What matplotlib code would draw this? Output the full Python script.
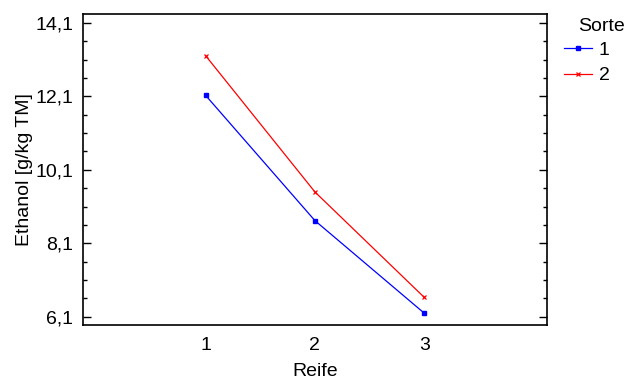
import matplotlib
matplotlib.use("Agg")
import matplotlib.pyplot as plt
import numpy as np
from matplotlib.ticker import FixedLocator, FuncFormatter

plt.rcParams['font.family'] = ['Liberation Sans', 'DejaVu Sans']

reife = [1, 2, 3]
sorte1 = [12.13, 8.72, 6.20]
sorte2 = [13.21, 9.50, 6.63]
yticks = [6.1, 8.1, 10.1, 12.1, 14.1]

FS = 14

fig = plt.figure(figsize=(6.27, 3.85), dpi=100)
ax = fig.add_axes([0.1324, 0.156, 0.872 - 0.1324, 0.9636 - 0.156])

ax.plot(reife, sorte1, color='#0000ff', lw=0.9, marker='s', ms=2.5, label='1')
ax.plot(reife, sorte2, color='#ff0000', lw=0.9, marker='x', ms=3.5, mew=0.9, label='2')

ax.set_xlim(-0.12, 4.12)
ax.set_ylim(5.88, 14.34)
ax.set_xticks(reife)
ax.set_yticks(yticks)
minors = [v for v in np.arange(6.1, 14.11, 0.5) if all(abs(v - t) > 1e-6 for t in yticks)]
ax.yaxis.set_minor_locator(FixedLocator(minors))
ax.yaxis.set_major_formatter(FuncFormatter(lambda v, p: f"{v:.1f}".replace('.', ',')))

ax.tick_params(axis='x', length=0, labelsize=FS, pad=9)
ax.tick_params(axis='y', which='major', direction='in', length=6, width=1, left=True, right=True, labelsize=FS, pad=7)
ax.tick_params(axis='y', which='minor', direction='in', length=3.2, width=1, left=True, right=True)
for s in ax.spines.values():
    s.set_linewidth(1.2)

ax.set_xlabel('Reife', fontsize=FS, labelpad=6)
ax.set_ylabel('Ethanol [g/kg TM]', fontsize=FS, labelpad=2)

leg = fig.legend(loc='upper left', bbox_to_anchor=(564 / 627, 1 - 41 / 385), frameon=False,
                 fontsize=FS, handlelength=1.45, handletextpad=0.35,
                 labelspacing=0.42, borderaxespad=0, borderpad=0)
fig.text(578 / 627, 1 - 31 / 385, 'Sorte', fontsize=FS, ha='left', va='baseline')

fig.savefig('out.png', dpi=100)
